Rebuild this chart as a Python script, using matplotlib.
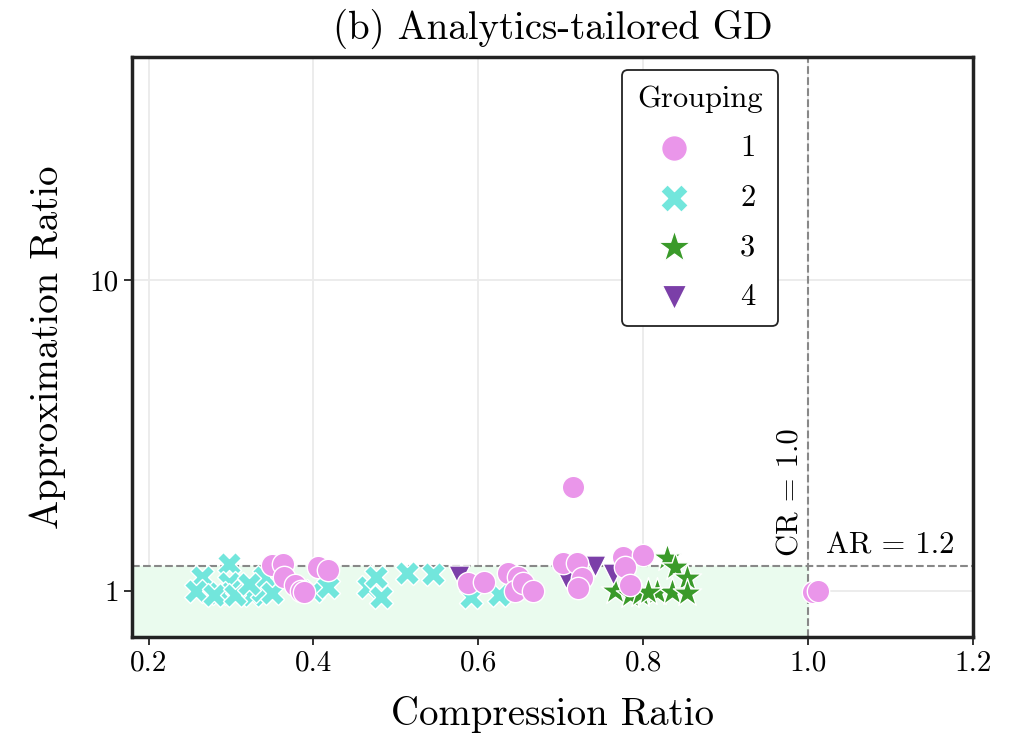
import numpy as np
import matplotlib.pyplot as plt
import matplotlib as mpl

plt.rcParams['font.family'] = ['cmr10', 'DejaVu Serif']
plt.rcParams['mathtext.fontset'] = 'cm'
plt.rcParams['axes.formatter.use_mathtext'] = True

# group 1 (circles)
g1_x = [0.350, 0.363, 0.364, 0.378, 0.385, 0.388, 0.406, 0.418, 0.588, 0.607,
        0.636, 0.648, 0.645, 0.654, 0.667, 0.703, 0.720, 0.726, 0.721, 0.715,
        0.776, 0.800, 0.778, 0.784, 1.006, 1.012]
g1_y = [1.21, 1.22, 1.11, 1.045, 1.00, 0.99, 1.19, 1.17, 1.06, 1.07,
        1.14, 1.11, 1.00, 1.06, 1.00, 1.23, 1.23, 1.10, 1.02, 2.16,
        1.29, 1.31, 1.19, 1.045, 0.99, 1.00]
# group 2 (crosses)
g2_x = [0.265, 0.257, 0.297, 0.297, 0.285, 0.315, 0.326, 0.338, 0.340, 0.350,
        0.400, 0.418, 0.466, 0.476, 0.482, 0.514, 0.545, 0.591, 0.625, 0.279,
        0.305, 0.322]
g2_y = [1.11, 1.00, 1.22, 1.06, 0.985, 1.00, 0.97, 1.00, 1.11, 0.985,
        1.00, 1.03, 1.03, 1.11, 0.96, 1.14, 1.13, 0.96, 0.97, 0.97,
        0.97, 1.05]
# group 3 (stars)
g3_x = [0.829, 0.839, 0.853, 0.766, 0.817, 0.835, 0.853, 0.784, 0.796, 0.806]
g3_y = [1.28, 1.19, 1.10, 1.00, 0.99, 0.99, 0.985, 0.97, 0.98, 0.99]
# group 4 (triangles)
g4_x = [0.577, 0.742, 0.764, 0.706]
g4_y = [1.12, 1.20, 1.13, 1.10]

groups = ['1', '2', '3', '4']
colors = ['#ea96ea', '#72e6dc', '#3a9a2a', '#7b3fa8']
markers = ['o', 'X', '*', 'v']
sizes = [260, 300, 460, 230]
data = [(g1_x, g1_y), (g2_x, g2_y), (g3_x, g3_y), (g4_x, g4_y)]

cr_thr = 1.0
ar_thr = 1.2

fig = plt.figure(figsize=(10.09, 7.35), dpi=100)
ax = fig.add_axes([0.131, 0.133, 0.833, 0.789])
ax.set_yscale('log')
ax.set_xlim(0.18, 1.2)
ax.set_ylim(0.71, 52)

ax.grid(True, color='#ebebeb', linewidth=1.3, zorder=0)
ax.set_axisbelow(True)

ax.fill_between([0.18, cr_thr], 0.71, ar_thr, color='#eafbee', zorder=1)
ax.axhline(ar_thr, color='#888888', linestyle='--', linewidth=1.5, zorder=2)
ax.axvline(cr_thr, color='#888888', linestyle='--', linewidth=1.5, zorder=2)

handles = [None] * 4
for i in [1, 2, 3, 0]:
    x, y = data[i]
    handles[i] = ax.scatter(x, y, s=sizes[i], c=colors[i], marker=markers[i],
                            edgecolors='white', linewidths=1.0, zorder=3,
                            label=groups[i])

ax.text(0.979, 1.3, 'CR = 1.0', rotation=90, ha='center', va='bottom', fontsize=22)
ax.text(1.10, 1.26, 'AR = 1.2', ha='center', va='bottom', fontsize=22)

ax.set_xticks([0.2, 0.4, 0.6, 0.8, 1.0, 1.2])
ax.set_xticklabels(['0.2', '0.4', '0.6', '0.8', '1.0', '1.2'])
ax.set_yticks([1, 10])
ax.set_yticklabels(['1', '10'])
ax.yaxis.set_minor_locator(mpl.ticker.NullLocator())
ax.tick_params(axis='both', labelsize=21, length=6, width=1.3, color='#222222')

for sp in ax.spines.values():
    sp.set_linewidth(2.5)
    sp.set_color('#222222')

ax.set_xlabel('Compression Ratio', fontsize=28, labelpad=14)
ax.set_ylabel('Approximation Ratio', fontsize=28, labelpad=17)
ax.set_title('(b) Analytics-tailored GD', fontsize=28, pad=13)

leg = ax.legend(handles=handles, title='Grouping', loc='upper right',
                bbox_to_anchor=(0.768, 0.978), borderaxespad=0.0,
                fontsize=22, title_fontsize=22,
                markerscale=1.15, labelspacing=0.72, handletextpad=1.15,
                borderpad=0.5, fancybox=True, framealpha=1.0)
leg.get_frame().set_edgecolor('#222222')
leg.get_frame().set_linewidth(1.3)

fig.savefig('out.png', dpi=100)
